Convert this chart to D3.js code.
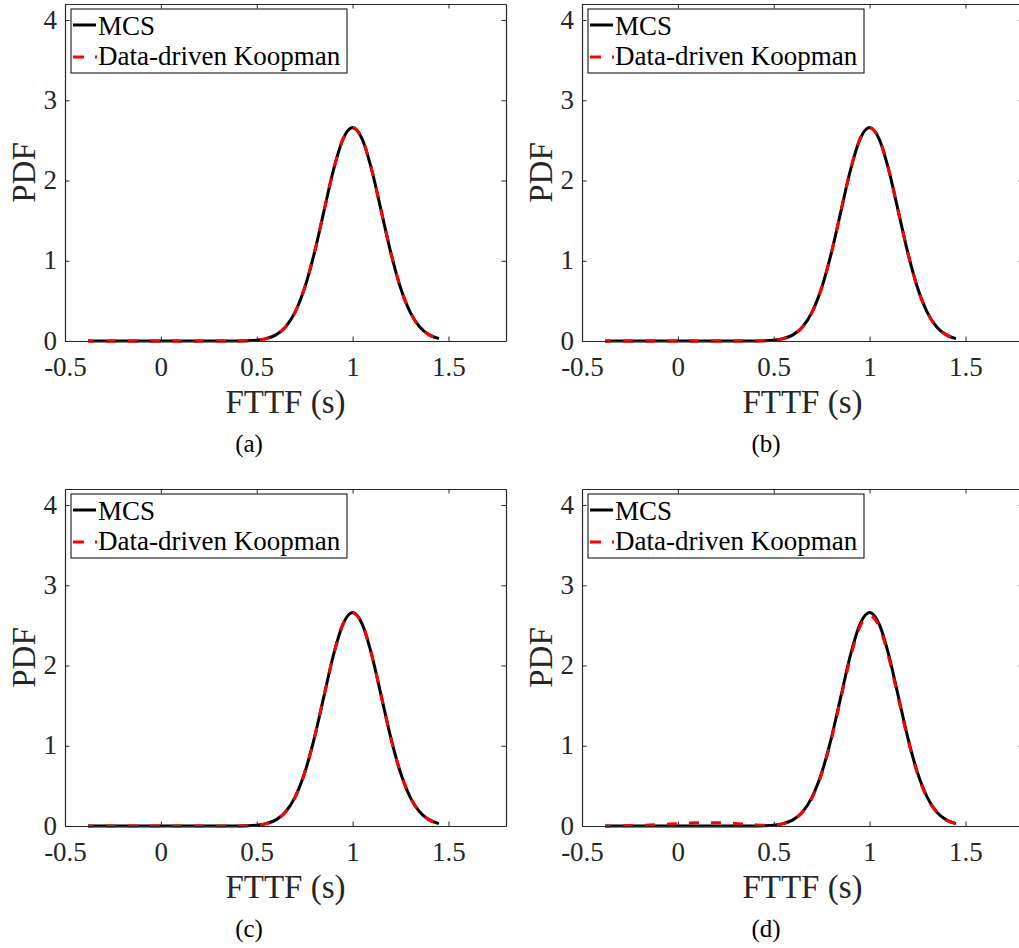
<!DOCTYPE html>
<html>
<head>
<meta charset="utf-8">
<script src="https://cdn.jsdelivr.net/npm/d3@7"></script>
<style>
  html, body { margin: 0; padding: 0; background: #fff; }
  svg { display: block; }
  text { font-family: "Liberation Serif", "Times New Roman", serif; }
</style>
</head>
<body>
<svg id="fig" width="1019" height="948"></svg>
<script>
// FTTF grid (s) shared by all four estimates
const fttfGrid = [-0.38, -0.3, -0.2, -0.1, 0, 0.1, 0.2, 0.3, 0.35, 0.4, 0.45, 0.5, 0.55, 0.6, 0.65, 0.7, 0.75,
                  0.8, 0.85, 0.9, 0.95, 1.0, 1.05, 1.1, 1.15, 1.2, 1.25, 1.3, 1.35, 1.4, 1.45];

// Monte Carlo reference PDF
const mcsPdf = [0, 0, 0, 0, 0, 0, 0, 0, 0, 0.001, 0.003, 0.010, 0.030, 0.076, 0.175, 0.360, 0.663,
                1.093, 1.613, 2.130, 2.516, 2.660, 2.516, 2.130, 1.613, 1.093, 0.663, 0.360, 0.175, 0.076, 0.030];

// Data-driven Koopman PDFs, one per case
const koopmanA = [0, 0, 0, 0, 0, 0, 0, 0, 0, 0.001, 0.003, 0.010, 0.030, 0.076, 0.175, 0.360, 0.663,
                  1.093, 1.613, 2.130, 2.516, 2.655, 2.516, 2.130, 1.613, 1.093, 0.663, 0.360, 0.175, 0.076, 0.030];
const koopmanB = [0, 0, 0, 0, 0, 0, 0, 0, 0, 0.001, 0.003, 0.010, 0.030, 0.076, 0.175, 0.360, 0.663,
                  1.093, 1.613, 2.130, 2.516, 2.655, 2.516, 2.130, 1.613, 1.093, 0.663, 0.360, 0.175, 0.076, 0.030];
const koopmanC = [0, 0, 0, 0, 0, 0, 0, 0, 0, 0.001, 0.003, 0.010, 0.030, 0.076, 0.175, 0.360, 0.663,
                  1.093, 1.613, 2.130, 2.516, 2.655, 2.516, 2.130, 1.613, 1.093, 0.663, 0.360, 0.175, 0.076, 0.030];
const koopmanD = [0, 0.003, 0.008, 0.018, 0.030, 0.040, 0.040, 0.030, 0.022, 0.015, 0.010, 0.012, 0.030, 0.075, 0.172, 0.352, 0.650,
                  1.075, 1.590, 2.100, 2.485, 2.620, 2.485, 2.100, 1.590, 1.075, 0.650, 0.352, 0.172, 0.075, 0.030];

const panelTags = ["(a)", "(b)", "(c)", "(d)"];
const koopmanSets = [koopmanA, koopmanB, koopmanC, koopmanD];

const xTicks = [-0.5, 0, 0.5, 1, 1.5];
const yTicks = [0, 1, 2, 3, 4];
const xDomain = [-0.5, 1.8];
const yDomain = [0, 4.2];
const legendNames = ["MCS", "Data-driven Koopman"];
const xLabel = "FTTF (s)";
const yLabel = "PDF";

// layout of the 2x2 grid
const axW = 441, axH = 337;
const origins = [[65, 4], [582, 4], [65, 489], [582, 489]];
const axisColor = "#262626";
const tickLen = 4.5;

const svg = d3.select("#fig");

panelTags.forEach((tag, i) => {
  const [ox, oy] = origins[i];
  const g = svg.append("g").attr("transform", `translate(${ox},${oy})`);

  const x = d3.scaleLinear().domain(xDomain).range([0, axW]);
  const y = d3.scaleLinear().domain(yDomain).range([axH, 0]);

  // curves
  const line = d3.line()
    .x((d, k) => x(fttfGrid[k]))
    .y(d => y(d))
    .curve(d3.curveMonotoneX);

  g.append("path")
    .datum(mcsPdf)
    .attr("d", line)
    .attr("fill", "none")
    .attr("stroke", "#000")
    .attr("stroke-width", 3);

  g.append("path")
    .datum(koopmanSets[i])
    .attr("d", line)
    .attr("fill", "none")
    .attr("stroke", "#ff0000")
    .attr("stroke-width", 3)
    .attr("stroke-dasharray", "10,12")
    .attr("stroke-dashoffset", 4);

  // axes: labelled bottom/left, tick-only top/right, ticks pointing inward
  const fmt = d => String(d);
  const bottom = g.append("g")
    .attr("transform", `translate(0,${axH})`)
    .call(d3.axisBottom(x).tickValues(xTicks).tickFormat(fmt)
      .tickSizeInner(-tickLen).tickSizeOuter(0).tickPadding(16));
  const left = g.append("g")
    .call(d3.axisLeft(y).tickValues(yTicks).tickFormat(fmt)
      .tickSizeInner(-tickLen).tickSizeOuter(0).tickPadding(8));
  const top = g.append("g")
    .call(d3.axisTop(x).tickValues(xTicks).tickFormat("")
      .tickSizeInner(-tickLen).tickSizeOuter(0));
  const right = g.append("g")
    .attr("transform", `translate(${axW},0)`)
    .call(d3.axisRight(y).tickValues(yTicks).tickFormat("")
      .tickSizeInner(-tickLen).tickSizeOuter(0));

  [bottom, left, top, right].forEach(a => {
    a.select(".domain").attr("stroke", axisColor).attr("stroke-width", 1.2);
    a.selectAll(".tick line").attr("stroke", axisColor).attr("stroke-width", 1);
    a.selectAll(".tick text")
      .attr("fill", axisColor)
      .style("font-family", '"Liberation Serif", serif')
      .style("font-size", "27px");
  });
  left.selectAll(".tick text").attr("dy", "0.30em");

  // axis titles
  g.append("text")
    .attr("x", axW / 2)
    .attr("y", axH + 72)
    .attr("text-anchor", "middle")
    .attr("fill", axisColor)
    .style("font-size", "33px")
    .text(xLabel);

  g.append("text")
    .attr("transform", `translate(${-30},${axH / 2}) rotate(-90)`)
    .attr("text-anchor", "middle")
    .attr("fill", axisColor)
    .style("font-size", "33px")
    .text(yLabel);

  // sub-figure caption
  g.append("text")
    .attr("x", 184)
    .attr("y", axH + 111)
    .attr("text-anchor", "middle")
    .attr("fill", "#000")
    .style("font-size", "25px")
    .text(tag);

  // legend
  const lg = g.append("g").attr("transform", "translate(6,5)");
  lg.append("rect")
    .attr("width", 276).attr("height", 64)
    .attr("fill", "#fff").attr("stroke", "#000").attr("stroke-width", 1);
  lg.append("line")
    .attr("x1", 2).attr("x2", 25).attr("y1", 16).attr("y2", 16)
    .attr("stroke", "#000").attr("stroke-width", 3);
  lg.append("line")
    .attr("x1", 2).attr("x2", 26).attr("y1", 48).attr("y2", 48)
    .attr("stroke", "#ff0000").attr("stroke-width", 3)
    .attr("stroke-dasharray", "11,11");
  lg.selectAll("text.leg")
    .data(legendNames)
    .join("text")
    .attr("class", "leg")
    .attr("x", 27)
    .attr("y", (d, k) => 26 + k * 30)
    .attr("fill", "#000")
    .style("font-size", "27px")
    .text(d => d);
});
</script>
</body>
</html>
